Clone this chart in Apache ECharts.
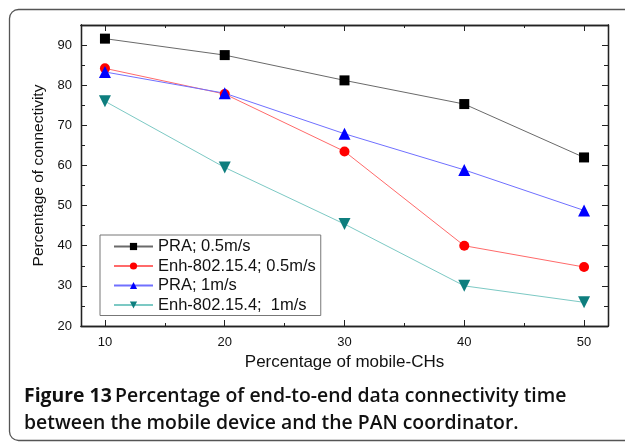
<!DOCTYPE html>
<html>
<head>
<meta charset="utf-8">
<script src="https://cdn.jsdelivr.net/npm/echarts@6/dist/echarts.min.js"></script>
<style>
  html, body { margin: 0; padding: 0; background: #fff; }
  #chart { width: 625px; height: 442px; }
</style>
</head>
<body>
<div id="chart"></div>
<script>
// Percentage of mobile cluster heads (x) vs. connectivity percentage (y)
const mobileCH = [10, 20, 30, 40, 50];
const praSlow = [91.6, 87.5, 81.2, 75.3, 62.0];   // PRA; 0.5m/s
const enhSlow = [84.2, 77.8, 63.5, 40.0, 34.7];   // Enh-802.15.4; 0.5m/s
const praFast = [83.3, 78.0, 67.9, 58.9, 48.8];   // PRA; 1m/s
const enhFast = [76.0, 59.5, 45.4, 30.0, 25.9];   // Enh-802.15.4; 1m/s

const xMajor = [10, 20, 30, 40, 50];
const xMinor = [15, 25, 35, 45];
const yMajor = [20, 30, 40, 50, 60, 70, 80, 90];
const yMinor = [25, 35, 45, 55, 65, 75, 85];

const seriesNames = ['PRA; 0.5m/s', 'Enh-802.15.4; 0.5m/s', 'PRA; 1m/s', 'Enh-802.15.4;  1m/s'];

const pair = vals => mobileCH.map((x, i) => [x, vals[i]]);
const font = 'Liberation Sans, Arial, sans-serif';

function xAxisDef(pos, ticks, len, labels) {
  return {
    type: 'value', min: 8, max: 52, position: pos,
    axisLine: { show: true, onZero: false, lineStyle: { color: '#222', width: 1.3 } },
    axisTick: { show: true, inside: true, length: len, customValues: ticks, lineStyle: { color: '#222' } },
    axisLabel: labels ? { show: true, customValues: xMajor, color: '#111', fontSize: 13, fontFamily: font, margin: 10 } : { show: false },
    splitLine: { show: false }
  };
}
function yAxisDef(pos, ticks, len, labels) {
  return {
    type: 'value', min: 20, max: 95, position: pos,
    axisLine: { show: true, onZero: false, lineStyle: { color: '#222', width: 1.3 } },
    axisTick: { show: true, inside: true, length: len, customValues: ticks, lineStyle: { color: '#222' } },
    axisLabel: labels ? { show: true, customValues: yMajor, color: '#111', fontSize: 13, fontFamily: font, margin: 9 } : { show: false },
    splitLine: { show: false }
  };
}

const xAxes = [
  Object.assign(xAxisDef('bottom', xMajor, 6, true), {
    name: 'Percentage of mobile-CHs', nameLocation: 'middle', nameGap: 28,
    nameTextStyle: { color: '#111', fontSize: 17, fontFamily: font }
  }),
  xAxisDef('bottom', xMinor, 3, false),
  xAxisDef('top', xMajor, 6, false),
  xAxisDef('top', xMinor, 3, false)
];
const yAxes = [
  Object.assign(yAxisDef('left', yMajor, 6, true), {
    name: 'Percentage of connectivity', nameLocation: 'middle', nameGap: 33, nameRotate: 90,
    nameTextStyle: { color: '#111', fontSize: 15.5, fontFamily: font }
  }),
  yAxisDef('left', yMinor, 4, false),
  yAxisDef('right', yMajor, 6, false),
  yAxisDef('right', yMinor, 4, false)
];

function lineSeries(name, vals, lineColor, markColor, symbol, rotate, size) {
  return {
    name, type: 'line', data: pair(vals),
    symbol, symbolSize: size, symbolRotate: rotate || 0,
    lineStyle: { color: lineColor, width: 1 },
    itemStyle: { color: markColor, borderWidth: 0 },
    emphasis: { disabled: true }, animation: false, z: 3
  };
}

const chart = echarts.init(document.getElementById('chart'), null, { renderer: 'canvas' });
chart.setOption({
  backgroundColor: '#fff',
  animation: false,
  grid: { left: 81, right: 17, top: 25, bottom: 116, containLabel: false },
  xAxis: xAxes,
  yAxis: yAxes,
  legend: {
    data: seriesNames,
    orient: 'vertical', left: 100, top: 235,
    itemWidth: 39, itemHeight: 9, itemGap: 2.5,
    borderColor: '#777', borderWidth: 1, borderRadius: 0,
    padding: [3, 5, 2, 13], backgroundColor: '#fff',
    textStyle: { color: '#111', fontSize: 16.5, lineHeight: 16, fontFamily: font }
  },
  series: [
    lineSeries(seriesNames[0], praSlow, '#6a6a6a', '#000', 'rect', 0, 10),
    lineSeries(seriesNames[1], enhSlow, '#ff6a6a', '#ff0000', 'circle', 0, 10),
    lineSeries(seriesNames[2], praFast, '#7070ff', '#0000ff', 'triangle', 0, 12),
    lineSeries(seriesNames[3], enhFast, '#7cc9c4', '#0e7e7e', 'triangle', 180, 12)
  ],
  graphic: [
    {
      type: 'rect', left: 7, top: 7, silent: true,
      shape: { width: 700, height: 431, r: 9 },
      style: { fill: 'none', stroke: '#555', lineWidth: 1.3 }, z: -1
    },
    {
      type: 'text', left: 24, top: 387, silent: true,
      style: {
        text: '{b|Figure 13} {n|Percentage of end-to-end data connectivity time}\n{n|between the mobile device and the PAN coordinator.}',
        rich: {
          b: { fontWeight: 'bold', fontSize: 19.4, fontFamily: 'Open Sans, Noto Sans, sans-serif', fill: '#111', lineHeight: 27 },
          n: { fontWeight: 600, fontSize: 19.4, fontFamily: 'Open Sans, Noto Sans, sans-serif', fill: '#111', lineHeight: 27 }
        }
      }
    }
  ]
});
</script>
</body>
</html>
